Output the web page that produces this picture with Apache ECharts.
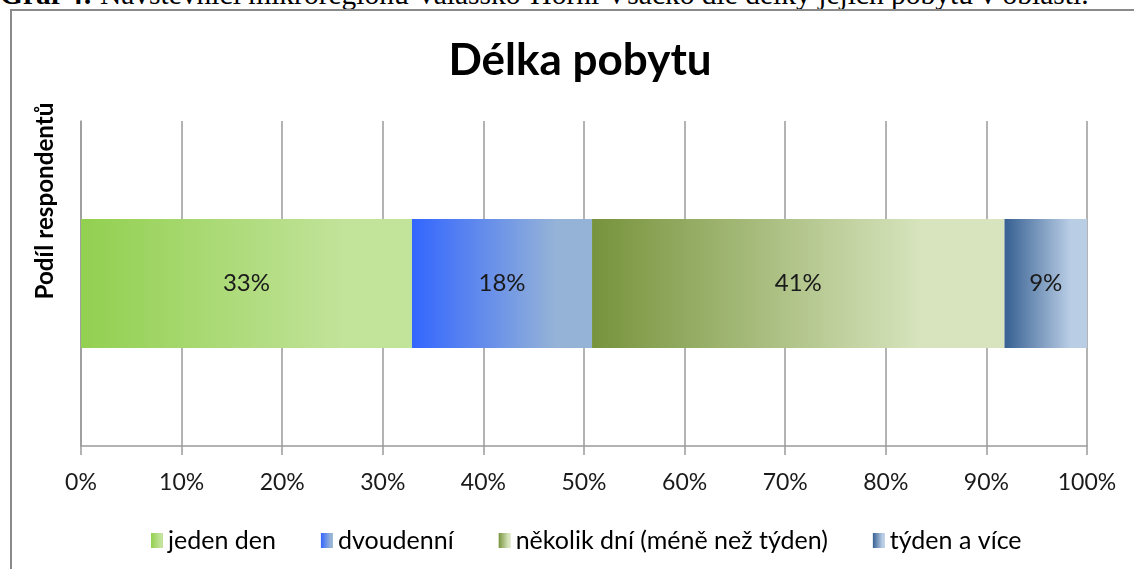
<!DOCTYPE html>
<html>
<head>
<meta charset="utf-8">
<script src="https://cdn.jsdelivr.net/npm/echarts@6/dist/echarts.min.js"></script>
<style>
  html, body { margin: 0; padding: 0; background: #fff; overflow: hidden; }
  #chart { position: absolute; left: 0; top: 0; width: 1134px; height: 569px; }
  #frame { position: absolute; left: 10px; top: 9px; width: 1140px; height: 700px;
           border: 2px solid #8a8a8a; box-sizing: border-box; pointer-events: none; }
  #caption { position: absolute; left: 0; top: -20px; white-space: nowrap;
             font-family: "Liberation Serif", serif; font-size: 29.5px; line-height: 1; color: #000; }
</style>
</head>
<body>
<div id="caption"><b>Graf 4:</b> Návštěvníci mikroregionu Valašsko-Horní Vsacko dle délky jejich pobytu v oblasti.</div>
<div id="chart"></div>
<div id="frame"></div>
<script>
const chartTitle = 'Délka pobytu';
const axisTitle = 'Podíl respondentů';
const categories = [''];
const seriesNames = ['jeden den', 'dvoudenní', 'několik dní (méně než týden)', 'týden a více'];
const seriesValues = [32.9, 17.9, 41.0, 8.2];
const seriesLabels = ['33%', '18%', '41%', '9%'];
const gradientStops = [
  ['#92d050', '#c2e39a'],
  ['#3366ff', '#95b3d7'],
  ['#77933c', '#d7e4bd'],
  ['#366092', '#b9cde5']
];
const xTickMin = 0, xTickMax = 100, xTickStep = 10;

const FONT = 'Lato';

function grad(c) {
  return new echarts.graphic.LinearGradient(0, 0, 1, 0, [
    { offset: 0, color: c[0] },
    { offset: 0.8, color: c[1] },
    { offset: 1, color: c[1] }
  ]);
}

const chart = echarts.init(document.getElementById('chart'), null, { renderer: 'canvas' });

const series = seriesNames.map((name, i) => ({
  name: name,
  type: 'bar',
  stack: 'total',
  barWidth: 129,
  data: [seriesValues[i]],
  itemStyle: { color: grad(gradientStops[i]) },
  label: {
    show: true,
    position: 'inside',
    formatter: () => seriesLabels[i],
    fontFamily: FONT,
    fontSize: 24,
    color: '#1a1a1a'
  },
  emphasis: { disabled: true }
}));

chart.setOption({
  animation: false,
  textStyle: { fontFamily: FONT },
  title: {
    text: chartTitle,
    left: 575,
    textAlign: 'center',
    top: 34,
    textStyle: { fontFamily: FONT, fontWeight: 'bold', fontSize: 44, color: '#000' }
  },
  legend: {
    left: 146,
    top: 523,
    itemWidth: 12,
    itemHeight: 15,
    itemGap: 45,
    icon: 'rect',
    textStyle: { fontFamily: FONT, fontSize: 25, color: '#000' },
    data: seriesNames
  },
  grid: { left: 81, right: 47, top: 121, bottom: 123, containLabel: false },
  xAxis: {
    type: 'value',
    min: xTickMin,
    max: xTickMax,
    interval: xTickStep,
    axisLine: { show: true, lineStyle: { color: '#9a9a9a', width: 1.5 } },
    axisTick: { show: true, length: 9, lineStyle: { color: '#9a9a9a', width: 1.5 } },
    splitLine: { show: true, lineStyle: { color: '#9a9a9a', width: 1.5 } },
    axisLabel: {
      formatter: '{value}%',
      margin: 25,
      fontFamily: FONT,
      fontSize: 23,
      color: '#1a1a1a'
    }
  },
  yAxis: {
    type: 'category',
    data: categories,
    axisLine: { show: true, lineStyle: { color: '#9a9a9a', width: 1.5 } },
    axisTick: { show: false },
    axisLabel: { show: false },
    splitLine: { show: false }
  },
  graphic: [{
    type: 'text',
    x: 45,
    y: 201,
    rotation: Math.PI / 2,
    style: {
      text: axisTitle,
      fontFamily: FONT,
      fontWeight: 'bold',
      fontSize: 24.2,
      fill: '#000',
      align: 'center',
      verticalAlign: 'middle'
    }
  }],
  series: series
});
</script>
</body>
</html>
